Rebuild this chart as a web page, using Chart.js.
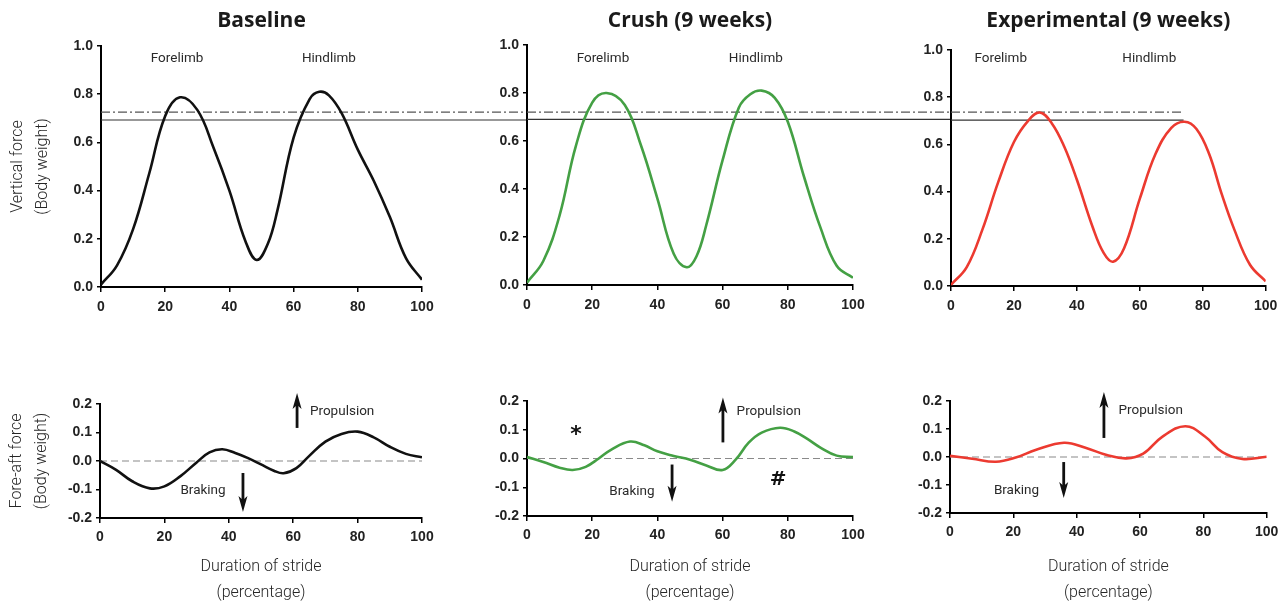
<!DOCTYPE html>
<html>
<head>
<meta charset="utf-8">
<script src="https://cdn.jsdelivr.net/npm/chart.js@4.4.1/dist/chart.umd.min.js"></script>
<style>
  html, body { margin: 0; padding: 0; background: #fff; width: 1284px; height: 601px; overflow: hidden; }
  canvas { position: absolute; left: 0; }
</style>
</head>
<body>
<canvas id="v0"></canvas>
<canvas id="v1"></canvas>
<canvas id="v2"></canvas>
<canvas id="f0"></canvas>
<canvas id="f1"></canvas>
<canvas id="f2"></canvas>
<script>
const groups = ["Baseline", "Crush (9 weeks)", "Experimental (9 weeks)"];
const strideTicks = [0, 20, 40, 60, 80, 100];
const verticalTicks = [0, 0.2, 0.4, 0.6, 0.8, 1.0];
const foreAftTicks = [-0.2, -0.1, 0, 0.1, 0.2];

// vertical force (body weight) against % of stride
const baseVertX = [0, 5, 10, 15, 20, 24.6, 30, 35, 40, 45, 48.5, 52, 55, 60, 65, 68, 71, 75, 80, 85, 90, 95, 100];
const baseVertY = [0.01, 0.09, 0.24, 0.47, 0.71, 0.787, 0.735, 0.58, 0.4, 0.19, 0.112, 0.18, 0.32, 0.62, 0.78, 0.81, 0.795, 0.72, 0.57, 0.44, 0.29, 0.12, 0.03];
const crushVertX = [0, 5, 10, 15, 20, 24.4, 30, 35, 40, 45, 49, 52, 55, 60, 65, 68.5, 72, 76, 80, 85, 90, 95, 100];
const crushVertY = [0.01, 0.1, 0.29, 0.58, 0.76, 0.8, 0.75, 0.58, 0.36, 0.13, 0.074, 0.12, 0.25, 0.52, 0.74, 0.795, 0.81, 0.78, 0.68, 0.45, 0.24, 0.08, 0.03];
const expVertX = [0, 5, 10, 15, 20, 24.5, 28.2, 32, 36, 40, 45, 48.5, 51.5, 55, 60, 65, 70, 74.2, 78, 82, 86, 90, 95, 100];
const expVertY = [0.005, 0.08, 0.24, 0.44, 0.61, 0.7, 0.735, 0.69, 0.59, 0.45, 0.25, 0.14, 0.103, 0.16, 0.37, 0.56, 0.67, 0.696, 0.665, 0.56, 0.39, 0.24, 0.09, 0.02];

// fore-aft force (body weight) against % of stride
const baseForeX = [0, 5, 10, 15.5, 20, 25, 30, 34, 38, 42, 46, 50, 54, 57, 61, 65, 70, 75, 80, 85, 90, 95, 100];
const baseForeY = [0, -0.031, -0.071, -0.096, -0.089, -0.053, -0.005, 0.03, 0.041, 0.028, 0.01, -0.012, -0.034, -0.043, -0.025, 0.018, 0.068, 0.095, 0.103, 0.083, 0.05, 0.025, 0.013];
const crushForeX = [0, 5, 10, 14, 18, 22, 26, 31.6, 36, 40, 45, 50, 55, 60, 64, 68, 72, 77.6, 82, 86, 90, 95, 100];
const crushForeY = [0.005, -0.012, -0.032, -0.04, -0.029, 0, 0.032, 0.059, 0.046, 0.025, 0.009, -0.004, -0.024, -0.04, -0.004, 0.055, 0.09, 0.107, 0.094, 0.068, 0.038, 0.01, 0.005];
const expForeX = [0, 7, 14.5, 21, 27, 36, 43, 49.5, 55.7, 61, 67, 74.3, 80.5, 86, 92.3, 100];
const expForeY = [0.004, -0.006, -0.017, -0.001, 0.025, 0.051, 0.032, 0.007, -0.005, 0.012, 0.072, 0.11, 0.073, 0.017, -0.007, 0.001];

// the two level lines over the top row, read on each panel's own axis
const levelDashDot = [0.726, 0.72, 0.737];
const levelSolid = [0.693, 0.69, 0.703];
const levelEnd = [132.7, 130.1, 73.9];

const colors = ["#111111", "#44a044", "#ec3a30"];

// where each plot area sits on the page: left, top, right, bottom
const rows = { top: { y: 0, h: 330 }, bottom: { y: 380, h: 230 } };
const areas = [
  [101, 46, 422, 287], [527, 45, 853, 285], [951, 50, 1273, 286],
  [100, 404, 422, 518], [527, 401, 853, 516], [950, 401, 1273, 513],
];

const textFont = "Roboto, 'Noto Sans', sans-serif";
const noteFont = "13.5px " + textFont;

const topNotes = [
  [{ text: "Forelimb", x: 23.7, y: 0.946 }, { text: "Hindlimb", x: 71, y: 0.946 }],
  [{ text: "Forelimb", x: 23.3, y: 0.942 }, { text: "Hindlimb", x: 70.2, y: 0.942 }],
  [{ text: "Forelimb", x: 15.8, y: 0.962 }, { text: "Hindlimb", x: 63, y: 0.962 }],
];
const bottomNotes = [
  {
    texts: [
      { text: "Propulsion", x: 65.2, y: 0.175, align: "left" },
      { text: "Braking", x: 32, y: -0.105 },
    ],
    arrows: [{ x: 61.2, from: 0.116, to: 0.239 }, { x: 44.4, from: -0.042, to: -0.179 }],
  },
  {
    texts: [
      { text: "Propulsion", x: 64.3, y: 0.163, align: "left" },
      { text: "Braking", x: 32.2, y: -0.115 },
      { text: "*", x: 15, y: 0.08, font: "bold 22px 'DejaVu Sans', sans-serif", color: "#111" },
      { text: "#", x: 77, y: -0.073, font: "bold 20px 'DejaVu Sans', sans-serif", color: "#111" },
    ],
    arrows: [{ x: 60.1, from: 0.056, to: 0.212 }, { x: 44.5, from: -0.021, to: -0.15 }],
  },
  {
    texts: [
      { text: "Propulsion", x: 53.2, y: 0.164, align: "left" },
      { text: "Braking", x: 21, y: -0.121 },
    ],
    arrows: [{ x: 48.6, from: 0.068, to: 0.232 }, { x: 35.9, from: -0.018, to: -0.146 }],
  },
];

const notesPlugin = {
  id: "notes",
  afterDatasetsDraw(chart, args, opts) {
    const { ctx } = chart;
    const x = chart.scales.x, y = chart.scales.y;
    ctx.save();
    (opts.texts || []).forEach((n) => {
      ctx.font = n.font || noteFont;
      ctx.fillStyle = n.color || "#2a2a2a";
      ctx.textAlign = n.align || "center";
      ctx.textBaseline = "middle";
      ctx.fillText(n.text, x.getPixelForValue(n.x), y.getPixelForValue(n.y));
    });
    (opts.arrows || []).forEach((a) => {
      const px = x.getPixelForValue(a.x);
      const y0 = y.getPixelForValue(a.from);
      const y1 = y.getPixelForValue(a.to);
      const dir = y1 < y0 ? 1 : -1;
      ctx.strokeStyle = "#111";
      ctx.fillStyle = "#111";
      ctx.lineWidth = 2.8;
      ctx.beginPath();
      ctx.moveTo(px, y0);
      ctx.lineTo(px, y1 + dir * 10);
      ctx.stroke();
      ctx.beginPath();
      ctx.moveTo(px, y1);
      ctx.lineTo(px - 4.5, y1 + dir * 16);
      ctx.lineTo(px, y1 + dir * 12);
      ctx.lineTo(px + 4.5, y1 + dir * 16);
      ctx.closePath();
      ctx.fill();
    });
    ctx.restore();
  },
};

function points(xs, ys) {
  return xs.map((x, i) => ({ x: x, y: ys[i] }));
}

function tickLabel(v) {
  return Math.abs(v) < 1e-9 ? "0.0" : v.toFixed(1);
}

function makePanel(id, index, isTop, xs, ys) {
  const row = isTop ? rows.top : rows.bottom;
  const [l, t, r, b] = areas[index];
  const col = index % 3;
  const canvas = document.getElementById(id);
  canvas.width = 1284;
  canvas.height = row.h;
  canvas.style.width = "1284px";
  canvas.style.height = row.h + "px";
  canvas.style.top = row.y + "px";

  const datasets = [{
    data: points(xs, ys),
    borderColor: colors[col],
    borderWidth: 2.6,
    pointRadius: 0,
    tension: 0.4,
  }];

  if (isTop) {
    datasets.push({
      data: [{ x: 0, y: levelDashDot[col] }, { x: levelEnd[col], y: levelDashDot[col] }],
      borderColor: "#555",
      borderWidth: 1.2,
      borderDash: [9, 3, 2, 3],
      pointRadius: 0,
      clip: false,
    });
    datasets.push({
      data: [{ x: 0, y: levelSolid[col] }, { x: levelEnd[col], y: levelSolid[col] }],
      borderColor: "#333",
      borderWidth: 1.1,
      pointRadius: 0,
      clip: false,
    });
  } else {
    datasets.push({
      data: [{ x: 0, y: 0 }, { x: 100, y: 0 }],
      borderColor: "#8a8a8a",
      borderWidth: 1.2,
      borderDash: [7, 4],
      pointRadius: 0,
    });
  }

  const tickFont = { family: "'Liberation Sans', Arial, sans-serif", size: 14, weight: "bold" };
  const yTicks = isTop ? verticalTicks : foreAftTicks;

  new Chart(canvas, {
    type: "line",
    data: { datasets: datasets },
    plugins: [notesPlugin],
    options: {
      responsive: false,
      animation: false,
      layout: {
        padding: {
          left: l - 100,
          right: 1284 - r,
          top: isTop ? 8.4 : t - row.y,
          bottom: 0,
        },
      },
      plugins: {
        legend: { display: false },
        tooltip: { enabled: false },
        title: {
          display: isTop,
          text: groups[col],
          fullSize: false,
          color: "#1a1a1a",
          font: { family: "'Open Sans', sans-serif", size: 21, weight: "bold", lineHeight: 1.2 },
          padding: { top: 0, bottom: t - row.y - 8.4 - 25.2 },
        },
        notes: isTop ? { texts: topNotes[col] } : bottomNotes[col],
      },
      scales: {
        x: {
          type: "linear",
          min: 0,
          max: 100,
          afterBuildTicks: (s) => { s.ticks = strideTicks.map((v) => ({ value: v })); },
          afterFit: (s) => { s.height = row.y + row.h - b; },
          ticks: { font: tickFont, color: "#222", padding: isTop ? 6.6 : 5.6 },
          grid: { drawOnChartArea: false, drawTicks: true, tickLength: 5, color: "#000", lineWidth: 1.5 },
          border: { display: true, color: "#000", width: 2 },
          title: {
            display: !isTop,
            text: ["Duration of stride", "(percentage)"],
            color: "#262626",
            font: { family: textFont, size: 16, weight: 300, lineHeight: 1.6 },
            padding: { top: 0, bottom: 4.2 },
          },
        },
        y: {
          type: "linear",
          min: isTop ? 0 : -0.2,
          max: isTop ? 1 : 0.2,
          afterBuildTicks: (s) => { s.ticks = yTicks.map((v) => ({ value: v })); },
          afterFit: (s) => { s.width = 100; },
          ticks: { font: tickFont, color: "#222", padding: 4, callback: tickLabel },
          grid: { drawOnChartArea: false, drawTicks: true, tickLength: 4, color: "#000", lineWidth: 1.5 },
          border: { display: true, color: "#000", width: 2 },
          title: {
            display: col === 0,
            text: isTop ? ["Vertical force", "(Body weight)"] : ["Fore-aft force", "(Body weight)"],
            color: "#262626",
            font: { family: textFont, size: 16, weight: 300, lineHeight: 1.55 },
            padding: { top: 4.6, bottom: 0 },
          },
        },
      },
    },
  });
}

makePanel("v0", 0, true, baseVertX, baseVertY);
makePanel("v1", 1, true, crushVertX, crushVertY);
makePanel("v2", 2, true, expVertX, expVertY);
makePanel("f0", 3, false, baseForeX, baseForeY);
makePanel("f1", 4, false, crushForeX, crushForeY);
makePanel("f2", 5, false, expForeX, expForeY);
</script>
</body>
</html>
